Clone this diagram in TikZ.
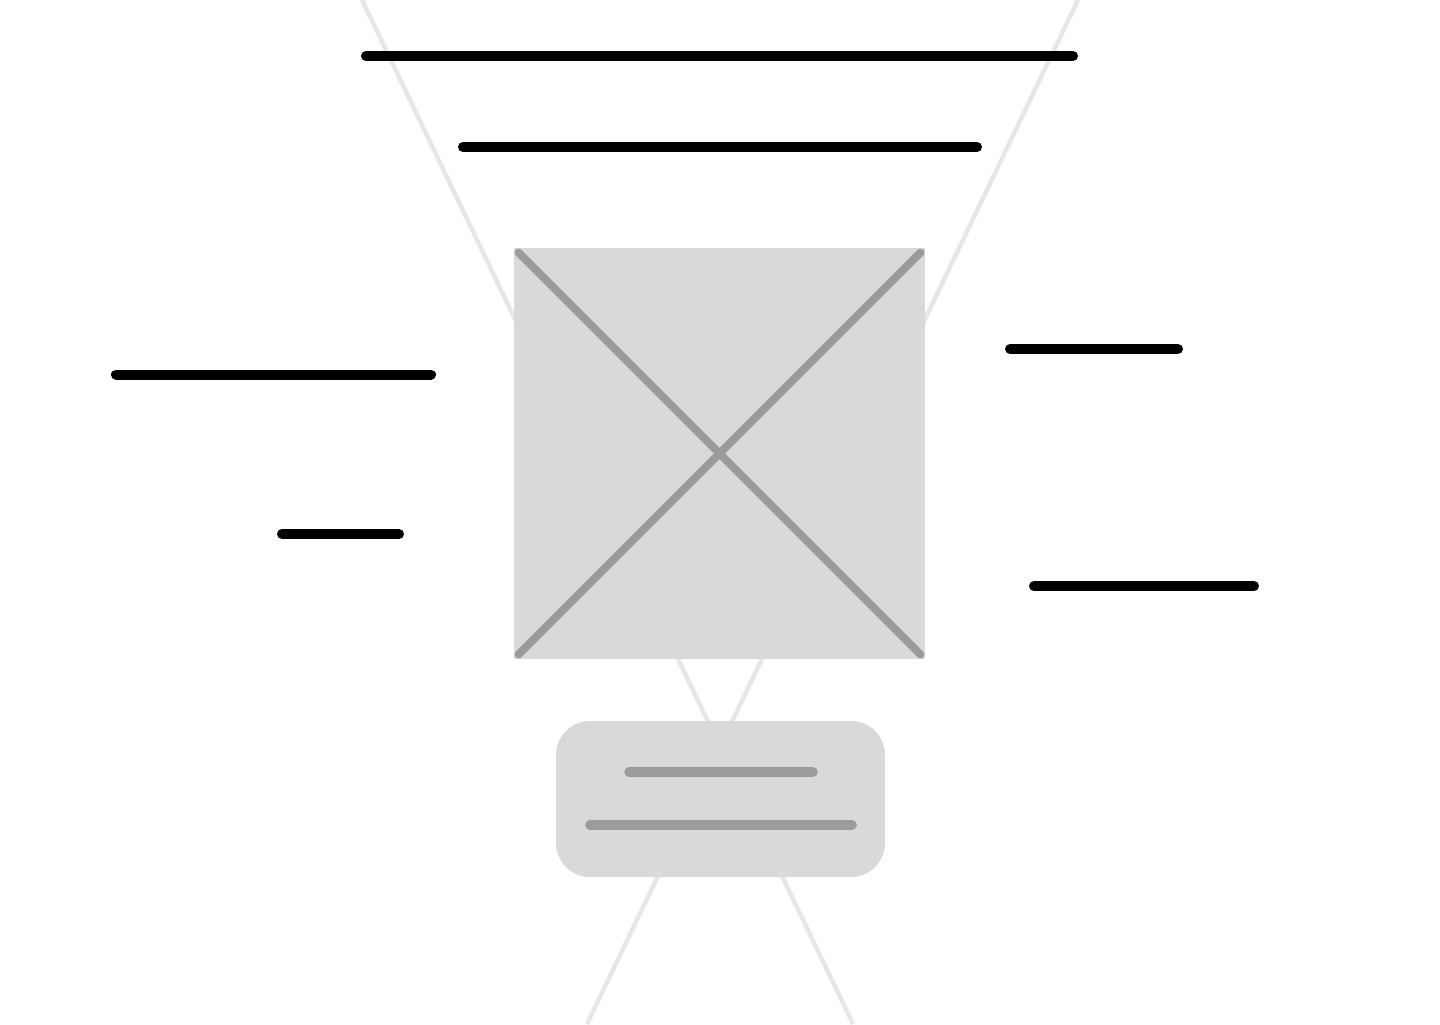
\documentclass[tikz,border=0pt]{standalone}
\usepackage{tikz}
\usetikzlibrary{calc}
\definecolor{boxgray}{HTML}{D9D9D9}
\definecolor{markgray}{HTML}{9B9B9B}
\definecolor{guidegray}{HTML}{E6E6E6}
\tikzset{
	barstyle/.style={line width=5pt,line cap=round,black},
	guidestyle/.style={line width=2.2pt,draw=guidegray},
	imagestyle/.style={rectangle,fill=boxgray,minimum width=205.5pt,minimum height=205.5pt,inner sep=0pt},
	cardstyle/.style={rectangle,rounded corners=17pt,fill=boxgray,minimum width=164.5pt,minimum height=78pt,inner sep=0pt},
	crossstyle/.style={line width=4pt,line cap=round,draw=markgray,shorten <=3.5pt,shorten >=3.5pt},
	cardbarstyle/.style={line width=4.8pt,line cap=round,draw=markgray}
}

\begin{document}
\begin{tikzpicture}[x=0.5pt,y=-0.5pt]
	\useasboundingbox (0,0) rectangle (1440,1024);
	\coordinate (gtl) at (362,0);
	\coordinate (gtr) at (1078,0);
	\coordinate (gbl) at (587,1024);
	\coordinate (gbr) at (853,1024);
	\draw[guidestyle] (gtl)--(gbr);
	\draw[guidestyle] (gtr)--(gbl);
	\node[imagestyle] (img) at (719.5,453.5) {};
	\node[cardstyle] (card) at (720.5,799) {};
	\draw[crossstyle] (img.north west)--(img.south east);
	\draw[crossstyle] (img.north east)--(img.south west);
	\draw[cardbarstyle] (629,772)--(813,772);
	\draw[cardbarstyle] (590,825)--(852,825);
	\draw[barstyle] (366,56)--(1073,56);
	\draw[barstyle] (463,147)--(977,147);
	\draw[barstyle] (116,374.5)--(431,374.5);
	\draw[barstyle] (282,534)--(399,534);
	\draw[barstyle] (1010,349)--(1178,349);
	\draw[barstyle] (1034,586)--(1254,586);
\end{tikzpicture}
\end{document}
